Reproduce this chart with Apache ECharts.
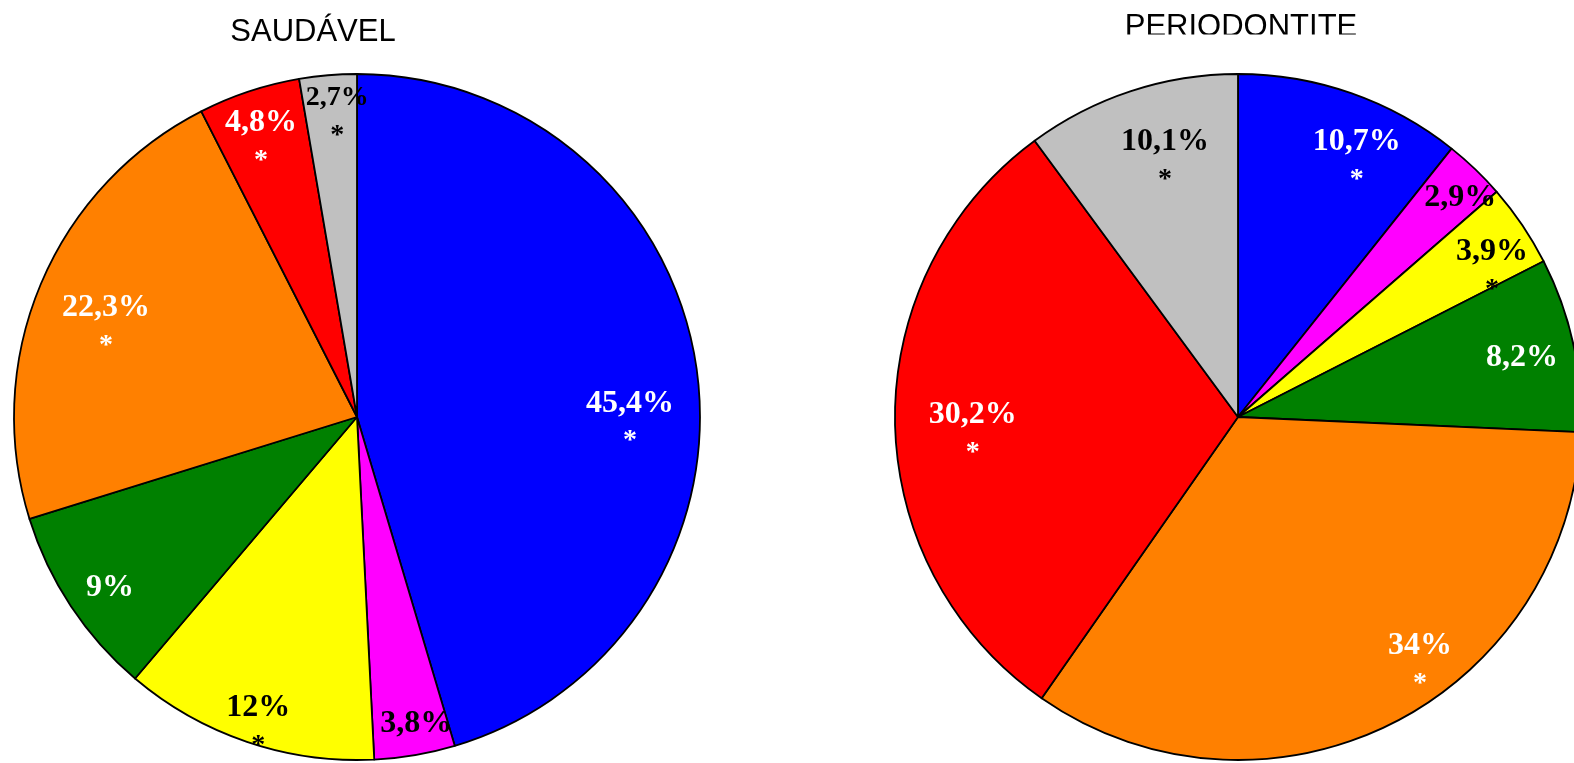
<!DOCTYPE html>
<html>
<head>
<meta charset="utf-8">
<title>Saudável x Periodontite</title>
<script src="https://cdn.jsdelivr.net/npm/echarts@6/dist/echarts.min.js"></script>
<style>
  html, body { margin: 0; padding: 0; background: #fff; }
  #chart { width: 1574px; height: 763px; }
</style>
</head>
<body>
<div id="chart"></div>
<script>
// Categories share one colour each across both pies
const categories = ['A', 'B', 'C', 'D', 'E', 'F', 'G'];
const sliceColors = ['#0000FF', '#FF00FF', '#FFFF00', '#008000', '#FF8000', '#FF0000', '#C0C0C0'];
const labelColors = ['#FFFFFF', '#000000', '#000000', '#FFFFFF', '#FFFFFF', '#FFFFFF', '#000000'];

// Percentages per group
const saudavel = [45.4, 3.8, 12, 9, 22.3, 4.8, 2.7];
const periodontite = [10.7, 2.9, 3.9, 8.2, 34, 30.2, 10.1];

// Significance marks (*) under each percentage
const saudavelMark = [true, false, true, false, true, true, true];
const periodontiteMark = [true, false, true, false, true, true, true];

const titles = ['SAUDÁVEL', 'PERIODONTITE'];

// Label placement: [fraction of radius, angular nudge in degrees] per slice
const saudavelPlace = [[0.797, 5.4], [0.911, -1.2], [0.896, 0], [0.876, -1.2], [0.798, 0.6], [0.902, 0.3], [0.932, 1.3]];
const periodontitePlace = [[0.873, 4.1], [0.911, 1.6], [0.883, 1.0], [0.846, 0.5], [0.853, -12.2], [0.773, 1.3], [0.829, 3.3]];

const RADIUS = 343;
const CENTER_L = [357, 417];
const CENTER_R = [1238, 417];
const LINE_H = 36;
const SERIF = '"Liberation Serif", "Times New Roman", serif';
const SANS = '"Liberation Sans", Arial, sans-serif';

function fmt(v) { return String(v).replace('.', ',') + '%'; }

function makeLayout(values, center, place) {
  const total = values.reduce((a, b) => a + b, 0);
  return function (params) {
    const i = params.dataIndex;
    let before = 0;
    for (let k = 0; k < i; k++) before += values[k];
    const mid = (before + values[i] / 2) / total * 360 + place[i][1];
    const rad = mid * Math.PI / 180;
    const d = RADIUS * place[i][0];
    return {
      x: center[0] + d * Math.sin(rad),
      y: center[1] - d * Math.cos(rad) - LINE_H / 2,
      align: 'center',
      verticalAlign: 'top'
    };
  };
}

function buildSeries(name, values, marks, center, place, smallIdx) {
  return {
    type: 'pie',
    name: name,
    center: center,
    radius: RADIUS,
    startAngle: 90,
    clockwise: true,
    silent: true,
    animation: false,
    itemStyle: { borderColor: '#000', borderWidth: 1.8 },
    labelLine: { show: false },
    label: {
      show: true,
      position: 'inside',
      formatter: function (p) {
        const key = p.dataIndex === smallIdx ? 'ns' : 'n';
        let s = '{' + key + '|' + fmt(values[p.dataIndex]) + '}';
        if (marks[p.dataIndex]) s += '\n{s|*}';
        return s;
      },
      rich: {
        n: { fontFamily: SERIF, fontWeight: 'bold', fontSize: 32, lineHeight: LINE_H },
        ns: { fontFamily: SERIF, fontWeight: 'bold', fontSize: 28, lineHeight: LINE_H },
        s: { fontFamily: SERIF, fontWeight: 'bold', fontSize: 28, lineHeight: 40 }
      }
    },
    labelLayout: makeLayout(values, center, place),
    data: values.map((v, i) => ({
      name: categories[i],
      value: v,
      itemStyle: { color: sliceColors[i] },
      label: { color: labelColors[i] }
    }))
  };
}

const chart = echarts.init(document.getElementById('chart'), null, { renderer: 'canvas' });
chart.setOption({
  backgroundColor: '#fff',
  animation: false,
  graphic: [
    { type: 'text', x: 313, y: 17, style: { text: titles[0], font: '31px ' + SANS, fill: '#000', align: 'center', verticalAlign: 'top' }, z: 1 },
    { type: 'text', x: 1241, y: 12, style: { text: titles[1], font: '31px ' + SANS, fill: '#000', align: 'center', verticalAlign: 'top' }, z: 1 },
    { type: 'rect', shape: { x: 1100, y: 34.5, width: 290, height: 12 }, style: { fill: '#fff' }, z: 2 }
  ],
  series: [
    buildSeries(titles[0], saudavel, saudavelMark, CENTER_L, saudavelPlace, 6),
    buildSeries(titles[1], periodontite, periodontiteMark, CENTER_R, periodontitePlace, -1)
  ]
});
</script>
</body>
</html>
